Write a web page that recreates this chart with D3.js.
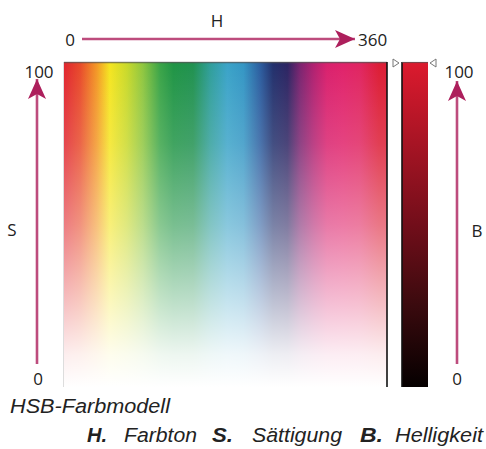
<!DOCTYPE html>
<html><head><meta charset="utf-8">
<script src="https://cdn.jsdelivr.net/npm/d3@7"></script>
<style>html,body{margin:0;padding:0;background:#fff;}svg{display:block;}</style>
</head><body>
<svg id="chart" width="486" height="449"></svg>
<script>
// Hue stops along the top edge (H in degrees) and their colours at full saturation
const hueStops  = [0, 18, 37, 51, 70, 88, 107, 122, 144, 163, 182, 200, 219, 233, 249, 263, 278, 293, 311, 330, 351, 360];
const hueColors = ["#e0252f","#e84a2a","#f39a25","#f5e51f","#c9d92a","#8ec63f","#3aa447","#1f9445","#209150","#2f9e9a","#3aa3c8","#3496c4","#2b5c9e","#22306c","#2c2462","#7a236f","#b02070","#d9206d","#e0226a","#e02560","#dc1d35","#dc1d35"];
// Saturation fade (S in %) and how much white covers the hue at that level
const satStops     = [100, 75, 50, 25, 10, 0];
const whiteOpacity = [0, 0.15, 0.4, 0.72, 0.92, 1];
// Brightness bar (B in %) and its colour
const briStops  = [100, 50, 25, 0];
const briColors = ["#dc1a2e","#720e1a","#3a0a0e","#050000"];
// Axis labels
const hTicks = ["0", "360"];
const sTicks = ["100", "0"];
const bTicks = ["100", "0"];
const axisNames = ["H", "S", "B"];
const caption = "HSB-Farbmodell";
const legendKeys  = ["H.", "S.", "B."];
const legendNames = ["Farbton", "Sättigung", "Helligkeit"];

const svg = d3.select("#chart");
const defs = svg.append("defs");
const accent = "#ad1f5c";
const labelFont = "'Open Sans', 'Noto Sans', sans-serif";

const x = d3.scaleLinear().domain([0, 360]).range([64, 387]);
const y = d3.scaleLinear().domain([0, 100]).range([387, 62]);
const barX0 = 402, barX1 = 428;

// Hue gradient
const hg = defs.append("linearGradient").attr("id", "hue").attr("x1", "0").attr("x2", "1").attr("y1", "0").attr("y2", "0");
hg.selectAll("stop").data(hueStops).join("stop")
  .attr("offset", d => (d / 360))
  .attr("stop-color", (d, i) => hueColors[i]);

// Saturation (white) gradient
const sg = defs.append("linearGradient").attr("id", "sat").attr("x1", "0").attr("x2", "0").attr("y1", "0").attr("y2", "1");
sg.selectAll("stop").data(satStops).join("stop")
  .attr("offset", d => 1 - d / 100)
  .attr("stop-color", "#ffffff")
  .attr("stop-opacity", (d, i) => whiteOpacity[i]);

// Brightness gradient
const bg = defs.append("linearGradient").attr("id", "bri").attr("x1", "0").attr("x2", "0").attr("y1", "0").attr("y2", "1");
bg.selectAll("stop").data(briStops).join("stop")
  .attr("offset", d => 1 - d / 100)
  .attr("stop-color", (d, i) => briColors[i]);

// Arrow marker
defs.append("marker").attr("id", "arrow")
  .attr("viewBox", "0 0 20 20").attr("refX", 20).attr("refY", 10)
  .attr("markerWidth", 20).attr("markerHeight", 20)
  .attr("markerUnits", "userSpaceOnUse").attr("orient", "auto")
  .append("path").attr("d", "M0,1 L20,10 L0,19 L5,10 Z").attr("fill", accent);

// Field
const fx = x(0), fw = x(360) - x(0), fy = y(100), fh = y(0) - y(100);
svg.append("rect").attr("x", fx).attr("y", fy).attr("width", fw).attr("height", fh).attr("fill", "url(#hue)");
svg.append("rect").attr("x", fx).attr("y", fy).attr("width", fw).attr("height", fh).attr("fill", "url(#sat)");
svg.append("line").attr("x1", fx).attr("x2", x(360)).attr("y1", fy + 0.5).attr("y2", fy + 0.5)
  .attr("stroke", "#555").attr("stroke-opacity", 0.7).attr("stroke-width", 1.5);
svg.append("line").attr("x1", fx - 0.5).attr("x2", fx - 0.5).attr("y1", fy).attr("y2", y(0))
  .attr("stroke", "#ddd").attr("stroke-width", 1);
svg.append("line").attr("x1", x(360)).attr("x2", x(360)).attr("y1", fy).attr("y2", y(0))
  .attr("stroke", "#111").attr("stroke-width", 1.6);

// Brightness bar
svg.append("rect").attr("x", barX0).attr("y", y(100)).attr("width", barX1 - barX0).attr("height", y(0) - y(100)).attr("fill", "url(#bri)");
svg.append("line").attr("x1", barX0).attr("x2", barX0).attr("y1", y(100)).attr("y2", y(0))
  .attr("stroke", "#111").attr("stroke-width", 1.6);
svg.append("line").attr("x1", barX0).attr("x2", barX1).attr("y1", y(100) + 0.5).attr("y2", y(100) + 0.5)
  .attr("stroke", "#555").attr("stroke-opacity", 0.7).attr("stroke-width", 1.2);
// Slider triangles
const ty = y(100) + 1;
svg.append("path").attr("d", `M${barX0 - 9},${ty - 4} L${barX0 - 3},${ty} L${barX0 - 9},${ty + 4} Z`)
  .attr("fill", "#fff").attr("stroke", "#777").attr("stroke-width", 1);
svg.append("path").attr("d", `M${barX1 + 8},${ty - 4} L${barX1 + 2},${ty} L${barX1 + 8},${ty + 4} Z`)
  .attr("fill", "#fff").attr("stroke", "#777").attr("stroke-width", 1);

// Arrows
function arrow(x1, y1, x2, y2) {
  svg.append("line").attr("x1", x1).attr("y1", y1).attr("x2", x2).attr("y2", y2)
    .attr("stroke", accent).attr("stroke-opacity", 0.8).attr("stroke-width", 2.6)
    .attr("marker-end", "url(#arrow)");
}
arrow(82, 39, 355, 39);
arrow(37, 364, 37, 79);
arrow(457, 364, 457, 81);

function label(t, cx, cy, anchor) {
  svg.append("text").attr("x", cx).attr("y", cy).attr("text-anchor", anchor || "middle")
    .attr("dominant-baseline", "central").attr("font-family", labelFont)
    .attr("font-size", 17).attr("fill", "#222").text(t);
}
label(axisNames[0], 217, 20);
label(hTicks[0], 70, 39);
label(hTicks[1], 358, 39, "start");
label(axisNames[1], 12, 229);
label(sTicks[0], 39, 71);
label(sTicks[1], 38, 378);
label(axisNames[2], 477, 230);
label(bTicks[0], 459, 71);
label(bTicks[1], 457, 378);

// Caption
const capFont = "'Liberation Sans', Arial, sans-serif";
svg.append("text").attr("x", 10).attr("y", 413).attr("font-family", capFont)
  .attr("font-style", "italic").attr("font-size", 19.5).attr("fill", "#222")
  .attr("textLength", 160).attr("lengthAdjust", "spacingAndGlyphs").text(caption);

const keyX = [87, 212, 360], keyW = [20, 21, 23];
const nameX = [124, 252, 395], nameW = [73, 90, 88];
legendKeys.forEach((k, i) => {
  svg.append("text").attr("x", keyX[i]).attr("y", 442).attr("font-family", capFont)
    .attr("font-style", "italic").attr("font-weight", "bold").attr("font-size", 19.5).attr("fill", "#222")
    .attr("textLength", keyW[i]).attr("lengthAdjust", "spacingAndGlyphs").text(k);
  svg.append("text").attr("x", nameX[i]).attr("y", 442).attr("font-family", capFont)
    .attr("font-style", "italic").attr("font-size", 19.5).attr("fill", "#222")
    .attr("textLength", nameW[i]).attr("lengthAdjust", "spacingAndGlyphs").text(legendNames[i]);
});
</script>
</body></html>
